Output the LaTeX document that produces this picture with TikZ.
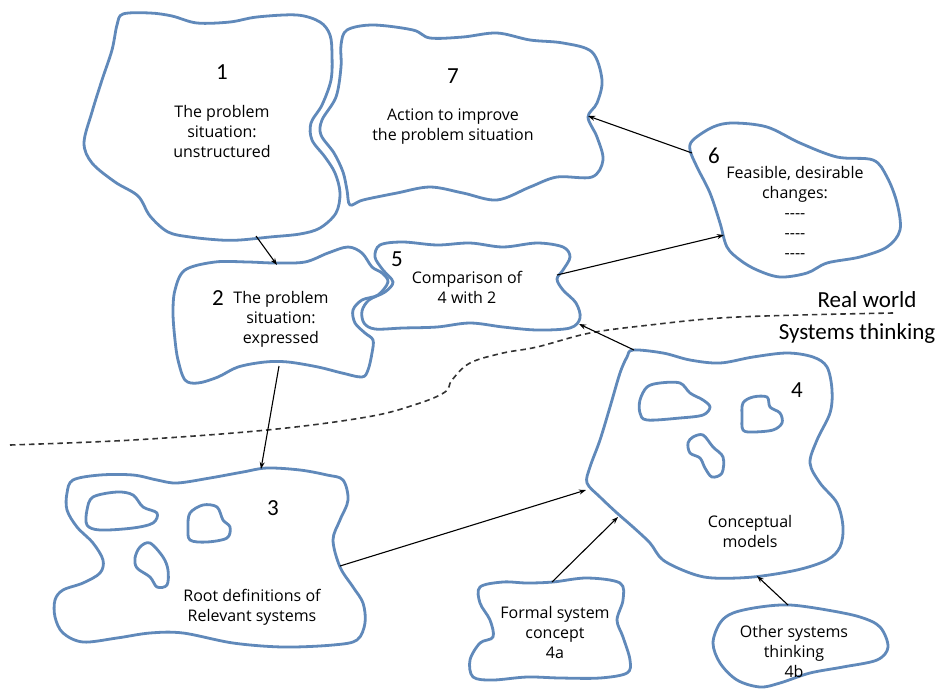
\documentclass[tikz,border=0pt]{standalone}
\usepackage{fontspec}
\setmainfont{Open Sans}
\newfontfamily\numfont{Carlito}
\usetikzlibrary{arrows.meta}
\definecolor{blobblue}{RGB}{96,137,186}
\newcommand{\blankline}{-{}-{}-{}-}

\begin{document}
\begin{tikzpicture}[x=1pt,y=-1pt,
  blob/.style={draw=blobblue, line width=2.8pt, line join=round},
  txt/.style={align=center, font=\fontsize{16}{20}\selectfont, inner sep=0pt},
  num/.style={font=\numfont\fontsize{23}{24}\selectfont, inner sep=0pt},
  side/.style={font=\numfont\fontsize{23}{26}\selectfont, inner sep=0pt},
  link/.style={draw=black, line width=1.1pt, -{Stealth[length=7pt,width=5pt]}},
  divide/.style={draw=black!80, line width=1.6pt, dash pattern=on 5.5pt off 4pt}
]
\fill[white] (0,0) rectangle (948,691);
\useasboundingbox (0,0) rectangle (948,691);

% ---- outlines ----
% 1: unstructured situation
\draw[blob] plot[smooth cycle, tension=0.55] coordinates {
  (123,14) (150,13) (172,16) (197,23) (230,22) (257,17) (297,15) (320,22)
  (330,35) (332,55) (331,80) (322,105) (311,123) (312,140) (325,157)
  (335,173) (340,193) (336,213) (320,228) (300,234) (270,237) (240,240)
  (220,240) (190,237) (168,232) (150,216) (138,196) (115,182) (92,163)
  (84,143) (92,112) (102,80) (112,50) (117,25)};
% 7: action
\draw[blob] plot[smooth cycle, tension=0.55] coordinates {
  (347,30) (373,25) (413,30) (430,38) (463,37) (497,33) (530,40) (563,43)
  (592,52) (602,80) (597,103) (588,117) (597,137) (603,160) (592,177)
  (557,177) (530,187) (497,200) (463,193) (430,187) (397,193) (363,200)
  (350,205) (347,190) (343,172) (334,153) (321,135) (322,120) (336,97)
  (341,67) (341,45)};
% 6: feasible changes
\draw[blob] plot[smooth cycle, tension=0.55] coordinates {
  (693,140) (713,127) (733,123) (767,127) (800,143) (837,157) (873,160)
  (887,177) (897,203) (900,230) (887,247) (860,257) (827,263) (807,273)
  (780,277) (757,270) (740,260) (727,247) (720,223) (710,193) (697,167)
  (690,150)};
% 2: situation expressed
\draw[blob] plot[smooth cycle, tension=0.55] coordinates {
  (185,270) (215,262) (248,262) (275,263) (305,262) (328,253) (348,247)
  (362,253) (372,267) (382,273) (388,282) (378,295) (362,300) (353,310)
  (355,323) (365,333) (373,340) (372,353) (368,370) (362,377) (342,373)
  (318,367) (288,362) (265,362) (238,367) (218,377) (198,383) (185,380)
  (178,360) (175,340) (173,313) (175,290)};
% 5: comparison
\draw[blob] plot[smooth cycle, tension=0.55] coordinates {
  (380,245) (403,242) (437,245) (470,243) (503,247) (537,243) (563,247)
  (570,257) (563,270) (557,279) (563,290) (576,303) (580,318) (570,328)
  (537,330) (503,327) (470,323) (437,327) (403,328) (375,329) (364,323)
  (362,311) (369,300) (385,292) (393,282) (383,270) (375,257)};
% 4: conceptual models
\draw[blob] plot[smooth cycle, tension=0.55] coordinates {
  (633,350) (663,353) (690,360) (720,363) (753,357) (787,353) (813,357)
  (827,367) (832,390) (830,413) (817,440) (810,463) (820,483) (837,503)
  (843,527) (840,547) (827,560) (797,570) (753,577) (713,578) (690,573)
  (663,560) (650,543) (633,527) (617,513) (600,497) (587,483) (590,467)
  (600,440) (610,407) (620,373) (627,357)};
\draw[blob] plot[smooth cycle, tension=0.55] coordinates {
  (640,400) (647,387) (660,383) (680,383) (690,393) (703,400) (710,407)
  (703,415) (680,418) (647,420) (640,413)};
\draw[blob] plot[smooth cycle, tension=0.55] coordinates {
  (743,403) (753,397) (767,397) (770,407) (780,413) (782,423) (773,430)
  (753,432) (743,430) (742,417)};
\draw[blob] plot[smooth cycle, tension=0.55] coordinates {
  (693,437) (703,435) (713,447) (723,457) (722,473) (712,477) (705,468)
  (700,458) (690,453) (688,443)};
% 3: root definitions
\draw[blob] plot[smooth cycle, tension=0.55] coordinates {
  (73,480) (100,475) (133,475) (157,480) (177,483) (210,478) (243,472)
  (267,468) (300,470) (327,475) (343,480) (348,500) (340,520) (333,540)
  (340,567) (353,587) (363,603) (365,623) (357,640) (333,645) (283,647)
  (233,643) (183,633) (150,633) (117,638) (83,642) (63,633) (55,617)
  (55,600) (63,590) (83,583) (100,573) (103,560) (93,543) (77,527)
  (67,510) (67,493)};
\draw[blob] plot[smooth cycle, tension=0.55] coordinates {
  (87,510) (93,497) (117,492) (133,495) (143,507) (157,513) (153,523)
  (133,528) (100,530) (87,525)};
\draw[blob] plot[smooth cycle, tension=0.55] coordinates {
  (190,513) (203,505) (217,507) (223,520) (230,527) (227,538) (207,542)
  (190,540) (188,527)};
\draw[blob] plot[smooth cycle, tension=0.55] coordinates {
  (140,547) (150,543) (163,557) (168,570) (167,585) (157,587) (150,577)
  (137,568) (135,558)};
% 4a: formal system concept
\draw[blob] plot[smooth cycle, tension=0.55] coordinates {
  (480,587) (503,582) (527,583) (553,582) (587,578) (620,583) (623,600)
  (617,620) (623,637) (630,660) (627,673) (600,678) (560,678) (527,677)
  (493,680) (473,677) (470,660) (480,643) (493,637) (490,620) (480,603)};
% 4b: other systems thinking
\draw[blob] plot[smooth cycle, tension=0.55] coordinates {
  (720,623) (733,613) (760,607) (790,605) (827,610) (860,617) (880,627)
  (888,647) (877,660) (843,667) (810,673) (780,683) (760,687) (737,680)
  (720,663) (713,643)};

% ---- boundary between the two worlds ----
\draw[divide] plot[smooth, tension=0.6] coordinates {
  (10,445) (133,440) (267,430) (367,417) (417,404) (445,392) (452,380)
  (470,363) (503,353) (537,347) (590,333) (650,325) (720,318) (800,315)
  (893,313)};
\node[side] (real) at (867,300) {Real world};
\node[side] (sys) at (857,333) {Systems thinking};

% ---- texts ----
\node[num] (n1) at (222,72) {1};
\node[txt] (t1) at (222,131) {The problem\\situation:\\unstructured};
\node[num] (n7) at (453,76) {7};
\node[txt] (t7) at (453,127) {Action to improve\\the problem situation};
\node[num] (n6) at (714,156) {6};
\node[txt] (t6) at (795,212) {Feasible, desirable\\changes:\\\blankline\\\blankline\\\blankline};
\node[num] (n2) at (218,298) {2};
\node[txt] (t2) at (281,319) {The problem\\situation:\\expressed};
\node[num] (n5) at (397,259) {5};
\node[txt] (t5) at (467,287) {Comparison of\\4 with 2};
\node[num] (n4) at (797,390) {4};
\node[txt] (t4) at (750,531) {Conceptual\\models};
\node[num] (n3) at (273,508) {3};
\node[txt] (t3) at (252,607) {Root definitions of\\Relevant systems};
\node[txt] (t4a) at (555,632) {Formal system\\concept\\4a};
\node[txt] (t4b) at (794,651) {Other systems\\thinking\\4b};

% ---- arrow end points on the outlines ----
\coordinate (o1) at (256,236);  \coordinate (i2) at (277,265);
\coordinate (o2) at (279,366);  \coordinate (i3) at (261,469);
\coordinate (o5) at (557,275);  \coordinate (i6) at (724,235);
\coordinate (o6) at (692,153);  \coordinate (i7) at (588,116);
\coordinate (o4) at (634,350);  \coordinate (i5) at (579,324);
\coordinate (o3) at (340,566);  \coordinate (i4) at (586,490);
\coordinate (o4a) at (552,582); \coordinate (j4) at (618,517);
\coordinate (o4b) at (788,605); \coordinate (k4) at (757,576);

\draw[link] (o1) -- (i2);
\draw[link] (o2) -- (i3);
\draw[link] (o5) -- (i6);
\draw[link] (o6) -- (i7);
\draw[link] (o4) -- (i5);
\draw[link] (o3) -- (i4);
\draw[link] (o4a) -- (j4);
\draw[link] (o4b) -- (k4);
\end{tikzpicture}
\end{document}
